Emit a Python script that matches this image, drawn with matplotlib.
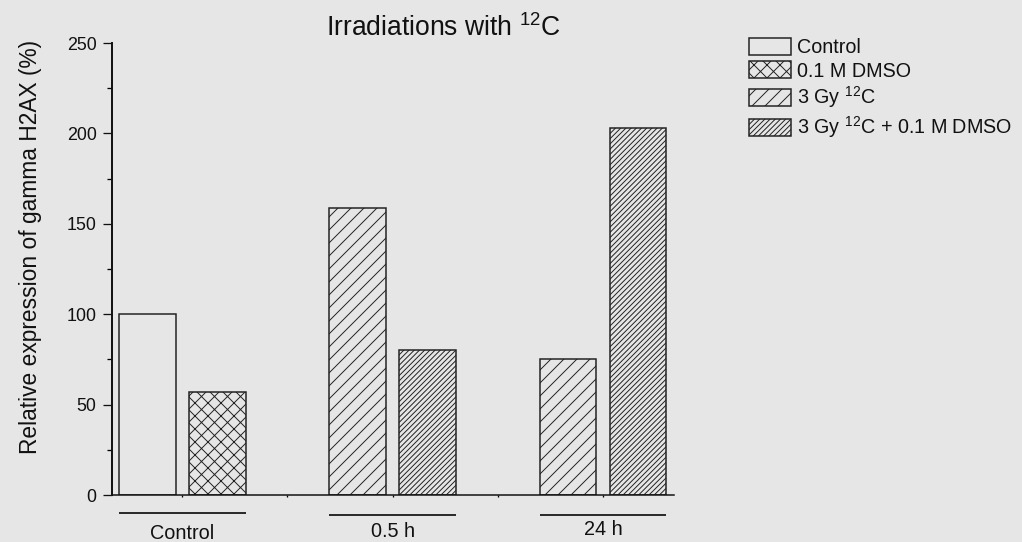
import numpy as np
import matplotlib.pyplot as plt
from matplotlib.ticker import MultipleLocator, FixedLocator, NullFormatter

plt.rcParams['font.family'] = ['Liberation Sans', 'DejaVu Sans']
plt.rcParams['hatch.linewidth'] = 0.9
plt.rcParams['hatch.color'] = '#222222'

groups = ['Control', '0.5 h', '24 h']
series = ['Control', '0.1 M DMSO', '3 Gy $\\mathregular{^{12}}$C',
          '3 Gy $\\mathregular{^{12}}$C + 0.1 M DMSO']
# (group index, series index, value)
bars = [
    (0, 0, 100),
    (0, 1, 57),
    (1, 2, 159),
    (1, 3, 80),
    (2, 2, 75),
    (2, 3, 203),
]
hatches = ['', 'xx', '//', '/////']

bg = '#e6e6e6'
ink = '#222222'
DPI = 78

fig = plt.figure(figsize=(1022 / DPI, 542 / DPI), dpi=DPI, facecolor=bg)
ax = fig.add_axes([112 / 1022, 1 - 495 / 542, 562 / 1022, 452 / 542])
ax.set_facecolor(bg)

width = 0.27
offset = 1 / 6
handles = {}
for g, s, v in bars:
    pos = g + (-offset if (s % 2 == 0) else offset)
    b = ax.bar(pos, v, width=width, facecolor=bg, edgecolor=ink,
               linewidth=1.4, hatch=hatches[s], label=series[s])
    handles[s] = b

ax.set_xlim(-0.3337, 2.3375)
ax.set_ylim(0, 250)

for side in ['top', 'right']:
    ax.spines[side].set_visible(False)
ax.spines['left'].set_linewidth(1.8)
ax.spines['bottom'].set_linewidth(1.4)
ax.spines['left'].set_color('#111111')
ax.spines['bottom'].set_color('#111111')

ax.yaxis.set_major_locator(MultipleLocator(50))
ax.yaxis.set_minor_locator(MultipleLocator(25))
ax.tick_params(axis='y', which='major', length=8.3, width=1.2, pad=6,
               labelsize=16.5, colors='#111111')
ax.tick_params(axis='y', which='minor', length=4.5, width=1.2)
ax.xaxis.set_major_locator(FixedLocator(np.arange(0, 2.01, 0.5)))
ax.xaxis.set_major_formatter(NullFormatter())
ax.tick_params(axis='x', which='major', length=2, width=1.2, direction='out')

# group underlines and names below the axis
tr = ax.get_xaxis_transform()
for i, name in enumerate(groups):
    x0 = i - offset - width / 2
    x1 = i + offset + width / 2
    ly = -0.040 if i == 0 else -0.044
    ax.plot([x0, x1], [ly, ly], color='#111111', lw=1.6,
            transform=tr, clip_on=False, solid_capstyle='butt')
    ax.text(i, -0.085 + 0.004 * i, name, transform=tr, ha='center',
            va='center', fontsize=18.3, color='#111111')

fig.text(443 / 1022, 1 - 36 / 542, 'Irradiations with $\\mathregular{^{12}}$C',
         ha='center', va='baseline', fontsize=24.5, color='#111111')
fig.text(31 / 1022, 1 - 247 / 542, 'Relative expression of gamma H2AX (%)',
         rotation=90, ha='center', va='center', fontsize=21, color='#111111')

leg = fig.legend([handles[k] for k in range(4)], series,
                 loc='upper left', bbox_to_anchor=(749 / 1022, 1 - 38 / 542),
                 bbox_transform=fig.transFigure, frameon=False,
                 fontsize=18.2, handlelength=2.15, handleheight=0.95,
                 handletextpad=0.3, labelspacing=0.2, borderpad=0,
                 borderaxespad=0)
for t in leg.get_texts():
    t.set_color('#111111')

fig.savefig('out.png', dpi=DPI, facecolor=bg)
